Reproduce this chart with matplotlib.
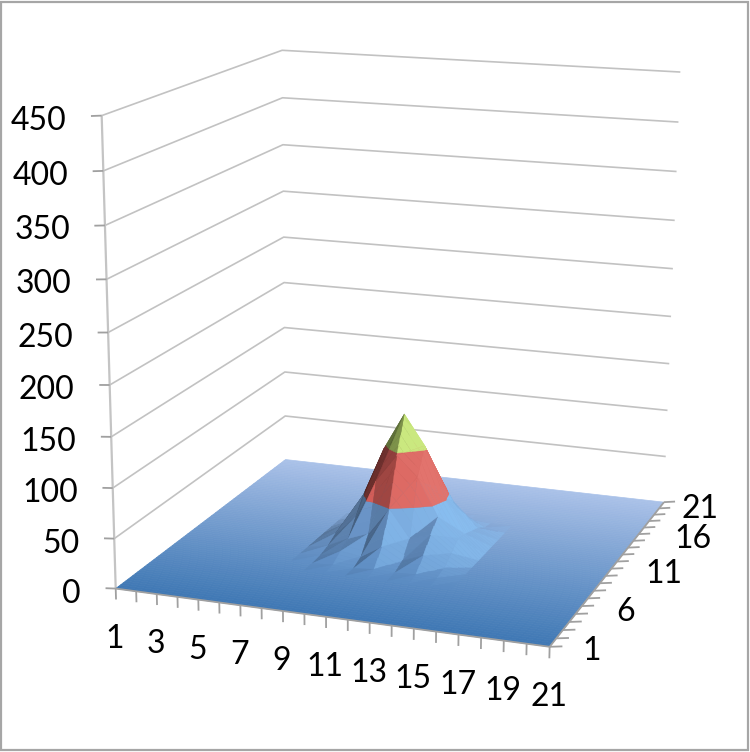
import numpy as np
import matplotlib
matplotlib.use("Agg")
import matplotlib.pyplot as plt
from matplotlib.colors import to_rgb
from matplotlib.patches import Rectangle
from mpl_toolkits.mplot3d.art3d import Poly3DCollection, Line3DCollection

plt.rcParams['font.family'] = ['Lato', 'DejaVu Sans']

z_ticks = [0, 50, 100, 150, 200, 250, 300, 350, 400, 450]
x_tick_labels = [1, 3, 5, 7, 9, 11, 13, 15, 17, 19, 21]
y_tick_labels = [1, 6, 11, 16, 21]

# values, everything outside this patch is flat at 0
patch_x0 = 7
patch_y0 = 7
peak_patch = [
    [0, 0, 1, 0, 2, 1, 2, 1, 0],
    [0, 1, 8, 5, 18, 6, 14, 4, 0],
    [0, 4, 14, 22, 50, 22, 28, 12, 0],
    [0, 10, 30, 70, 98, 78, 40, 20, 0],
    [0, 12, 46, 96, 134, 104, 52, 18, 0],
    [0, 8, 36, 78, 100, 82, 44, 14, 0],
    [0, 5, 20, 44, 54, 48, 26, 10, 0],
    [0, 2, 8, 16, 24, 18, 10, 3, 0],
    [0, 0, 1, 3, 4, 3, 1, 0, 0],
]

Z = np.zeros((21, 21))
patch = np.array(peak_patch, dtype=float)
Z[patch_y0 - 1:patch_y0 - 1 + patch.shape[0], patch_x0 - 1:patch_x0 - 1 + patch.shape[1]] = patch

# where corners of the box sit in the image, used to fit the camera
world_pts = [(1, 1, 0), (21, 1, 0), (21, 21, 0), (1, 21, 0),
             (1, 1, 450), (1, 21, 450), (21, 21, 450)]
pixel_pts = [(116, 588), (550, 647), (664, 502), (285, 460),
             (101, 116), (283, 50), (680, 72)]


def fit_camera(world, pixel):
    rows = []
    for (x, y, z), (u, v) in zip(world, pixel):
        rows.append([x, y, z, 1, 0, 0, 0, 0, -u * x, -u * y, -u * z, -u])
        rows.append([0, 0, 0, 0, x, y, z, 1, -v * x, -v * y, -v * z, -v])
    P = np.linalg.svd(np.array(rows, dtype=float))[2][-1].reshape(3, 4)
    return P / P[2, 3]


P = fit_camera(world_pts, pixel_pts)
# third row only orders the polygons: far is large y, small x, small z
M = np.array([P[0], P[1], [-0.3, 1.0, -0.05, 0.0], P[2]])


def to_image(x, y, z):
    u, v, w = P @ np.array([x, y, z, 1.0])
    return u / w, v / w


fig = plt.figure(figsize=(7.5, 7.52), dpi=100)
ax = fig.add_axes([0, 0, 1, 1], projection='3d', computed_zorder=False)
ax.set_axis_off()
ax.set_autoscale_on(False)
ax.get_proj = lambda: M
ax.viewLim.intervalx = (0, 750)
ax.viewLim.intervaly = (751, 1)

fig.add_artist(Rectangle((0.001, 0.002), 0.996, 0.995, transform=fig.transFigure,
                         fill=False, edgecolor='#a6a6a6', linewidth=1.6))

# walls
grid_segs = []
for z in z_ticks[1:]:
    grid_segs.append([(1, 1, z), (1, 21, z), (21, 21, z)])
ax.add_collection3d(Line3DCollection(grid_segs, colors='#c2c2c2', linewidths=1.2, zorder=1),
                    autolim=False)
ax.add_collection3d(Line3DCollection([[(1, 1, 0), (1, 1, 450)]], colors='#c4c4c4',
                                     linewidths=1.6, zorder=1), autolim=False)

# ticks
tick_segs = []
for z in z_ticks:
    tick_segs.append([(1, 1, z), (0.5, 1, z - 1)])
for x in range(1, 22):
    tick_segs.append([(x, 1, 0), (x, 1, -11)])
for y in range(1, 22):
    tick_segs.append([(21, y, 0), (21.55, y, 2)])
tick_segs.append([(1, 1, 0), (21, 1, 0), (21, 21, 0)])
ax.add_collection3d(Line3DCollection(tick_segs, colors='#a0a0a0', linewidths=1.3, zorder=3),
                    autolim=False)

label_size = 23
for z in z_ticks:
    u, v = to_image(1, 1, z)
    ax.text2D(u - 35, v + 5, str(z), ha='right', va='center', fontsize=label_size,
              transform=ax.transData, zorder=4)
for x in x_tick_labels:
    u, v = to_image(x, 1, 0)
    ax.text2D(u - 1, v + 50, str(x), ha='center', va='center', fontsize=label_size,
              transform=ax.transData, zorder=4)
y_nudge = [(-4, -6), (-1, -4), (10, -4), (13, -4), (-4, -1)]
for y, (dx, dy) in zip(y_tick_labels, y_nudge):
    u, v = to_image(23, y, -4)
    ax.text2D(u + dx, v + dy, str(y), ha='center', va='center', fontsize=label_size,
              transform=ax.transData, zorder=4)


def clip_poly(poly, axis, lo, hi):
    for sign, limit in ((1, lo), (-1, hi)):
        out = []
        for i in range(len(poly)):
            a = poly[i]
            b = poly[(i + 1) % len(poly)]
            da = sign * (a[axis] - limit)
            db = sign * (b[axis] - limit)
            if da >= 0:
                out.append(a)
            if da * db < 0:
                out.append(a + (b - a) * da / (da - db))
        poly = out
        if len(poly) < 3:
            return []
    return poly


blue_front = np.array(to_rgb('#3f78b4'))
blue_back = np.array(to_rgb('#abc2e9'))
band_colors = [None, np.array(to_rgb('#d85f5a')), np.array(to_rgb('#bcdc70'))]
light_colors = [np.array(to_rgb('#8cc4f6')), np.array(to_rgb('#e8817a')), np.array(to_rgb('#cdea82'))]
light_gain = [1.0, 0.7, 1.3]
dark_gain = [0.5, 0.75, 0.75]


def floor_color(y):
    return blue_front + (blue_back - blue_front) * (y - 1) / 20


def shade(tri, y, band):
    a, b, c = [p * np.array([1, 1, 1 / 20]) for p in tri]
    n = np.cross(b - a, c - a)
    n = n / np.linalg.norm(n)
    if n[2] < 0:
        n = -n
    s = 0.95 * n[0] - 0.12 * n[1]
    base = floor_color(y) if band == 0 else band_colors[band]
    if s > 0:
        return tuple(base + (light_colors[band] - base) * min(s * light_gain[band], 1))
    return tuple(base * (1 + s * dark_gain[band]))


# flat floor as long strips, the bumps go on top of it
floor_polys = []
floor_cols = []
for k in range(80):
    y0 = 1 + k / 4
    floor_polys.append(np.array([(1, y0, 0), (21, y0, 0), (21, y0 + 0.25, 0), (1, y0 + 0.25, 0)], dtype=float))
    floor_cols.append(tuple(floor_color(y0 + 0.125)))
ax.add_collection3d(Poly3DCollection(floor_polys, facecolors=floor_cols, edgecolors=floor_cols,
                                     linewidths=0.5, zorder=2), autolim=False)

bands = [(-1, 50), (50, 100), (100, 500)]
polys = []
colors = []
for j in range(20):
    for i in range(20):
        if Z[j:j + 2, i:i + 2].max() == 0:
            continue
        p00 = np.array([i + 1, j + 1, Z[j, i]], dtype=float)
        p10 = np.array([i + 2, j + 1, Z[j, i + 1]], dtype=float)
        p01 = np.array([i + 1, j + 2, Z[j + 1, i]], dtype=float)
        p11 = np.array([i + 2, j + 2, Z[j + 1, i + 1]], dtype=float)
        for tri in ([p00, p10, p11], [p00, p11, p01]):
            for strip in range(4):
                y0 = j + 1 + strip / 4
                part = clip_poly(tri, 1, y0, y0 + 0.25)
                if not part:
                    continue
                for band, (lo, hi) in enumerate(bands):
                    piece = clip_poly(part, 2, lo, hi)
                    if piece:
                        polys.append(np.array(piece))
                        colors.append(shade(tri, y0 + 0.125, band))

surface = Poly3DCollection(polys, facecolors=colors, edgecolors=colors, linewidths=0.3, zorder=2.5)
ax.add_collection3d(surface, autolim=False)

fig.savefig('out.png', dpi=100)
